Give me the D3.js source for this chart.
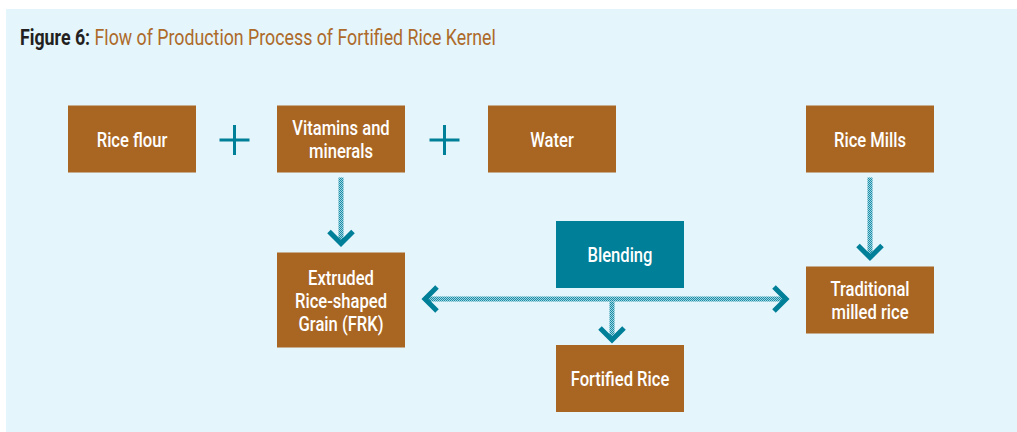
<!DOCTYPE html>
<html>
<head>
<meta charset="utf-8">
<script src="https://cdn.jsdelivr.net/npm/d3@7"></script>
<style>
  html, body { margin: 0; padding: 0; background: #fff; }
  svg { display: block; }
</style>
</head>
<body>
<script>
// Flow chart content
const titleLead = "Figure 6:";
const titleText = "Flow of Production Process of Fortified Rice Kernel";

const nodeLabels = [
  "Rice flour",
  "Vitamins and\nminerals",
  "Water",
  "Rice Mills",
  "Extruded\nRice-shaped\nGrain (FRK)",
  "Blending",
  "Traditional\nmilled rice",
  "Fortified Rice",
];
const nodeColumns = ["flour", "vitamins", "water", "mills", "vitamins", "blend", "mills", "blend"];
const nodeRows = ["inputs", "inputs", "inputs", "inputs", "products", "hub", "products", "output"];
const nodeKinds = ["material", "material", "material", "material", "material", "process", "material", "material"];

// ingredients that are combined (drawn as "+")
const plusPairs = [
  ["Rice flour", "Vitamins and\nminerals"],
  ["Vitamins and\nminerals", "Water"],
];
// straight downward flows
const flows = [
  ["Vitamins and\nminerals", "Extruded\nRice-shaped\nGrain (FRK)"],
  ["Rice Mills", "Traditional\nmilled rice"],
];
// the blending step joins these two and gives the third
const blendLeft = "Extruded\nRice-shaped\nGrain (FRK)";
const blendRight = "Traditional\nmilled rice";
const blendOut = "Fortified Rice";

const width = 1017;
const height = 432;
const teal = "#007f99";
const brown = "#a96622";
const font = "Roboto, 'Liberation Sans', sans-serif";
const squeeze = 0.79; // condensed look

const x = d3.scaleOrdinal()
  .domain(["flour", "vitamins", "water", "blend", "mills"])
  .range([132, 341, 552, 620, 870]);
const y = d3.scaleOrdinal()
  .domain(["inputs", "hub", "products", "output"])
  .range([139, 254.5, 300, 378.5]);
const kindColor = d3.scaleOrdinal().domain(["material", "process"]).range([brown, teal]);

const boxW = 128;
const boxH = (n) => (n > 2 ? 95 : 67);

const nodes = nodeLabels.map((label, i) => {
  const lines = label.split("\n");
  const cx = x(nodeColumns[i]);
  const cy = y(nodeRows[i]);
  const h = boxH(lines.length);
  return {
    label, lines, cx, cy, kind: nodeKinds[i],
    x0: cx - boxW / 2, x1: cx + boxW / 2, y0: cy - h / 2, y1: cy + h / 2,
  };
});
const byLabel = new Map(nodes.map((d) => [d.label, d]));

const svg = d3.select("body").append("svg")
  .attr("width", width)
  .attr("height", height)
  .attr("viewBox", `0 0 ${width} ${height}`);

// hatched fill used for the arrow shafts
const pat = svg.append("defs").append("pattern")
  .attr("id", "hatch")
  .attr("patternUnits", "userSpaceOnUse")
  .attr("width", 2)
  .attr("height", 2);
pat.append("rect").attr("width", 2).attr("height", 2).attr("fill", "#9ed5e2");
pat.append("rect").attr("width", 1).attr("height", 1).attr("fill", "#1a8ca6");
pat.append("rect").attr("x", 1).attr("y", 1).attr("width", 1).attr("height", 1).attr("fill", "#1a8ca6");

// panel
svg.append("rect")
  .attr("x", 6).attr("y", 9)
  .attr("width", width - 6).attr("height", height - 9)
  .attr("fill", "#e4f5fc");

// title
const title = svg.append("text")
  .attr("transform", `translate(20,45) scale(${squeeze},1)`)
  .attr("font-family", font)
  .attr("font-size", "22.5px");
title.append("tspan").attr("font-weight", "bold").attr("fill", "#231f20").text(titleLead + " ");
title.append("tspan").attr("fill", "#ad6a2a").text(titleText);

// boxes
const box = svg.append("g").selectAll("g")
  .data(nodes)
  .join("g");

box.append("rect")
  .attr("x", (d) => d.x0)
  .attr("y", (d) => d.y0)
  .attr("width", boxW)
  .attr("height", (d) => d.y1 - d.y0)
  .attr("fill", (d) => kindColor(d.kind));

box.append("text")
  .attr("fill", "white")
  .attr("font-family", font)
  .attr("font-size", "21px")
  .attr("font-weight", 500)
  .attr("text-anchor", "middle")
  .attr("transform", (d) => `translate(${d.cx},0) scale(${squeeze},1)`)
  .each(function (d) {
    const lh = 23;
    const top = d.cy - ((d.lines.length - 1) * lh) / 2;
    d3.select(this).selectAll("tspan")
      .data(d.lines)
      .join("tspan")
      .attr("x", 0)
      .attr("y", (l, i) => top + i * lh)
      .attr("dy", "0.36em")
      .text((l) => l);
  });

// plus signs
const plus = svg.append("g").attr("stroke", teal).attr("stroke-width", 3);
plusPairs.forEach(([a, b]) => {
  const s = byLabel.get(a), t = byLabel.get(b);
  const cx = (s.x1 + t.x0) / 2 - 2;
  const cy = s.cy + 1;
  plus.append("line").attr("x1", cx - 15).attr("x2", cx + 15).attr("y1", cy).attr("y2", cy);
  plus.append("line").attr("x1", cx).attr("x2", cx).attr("y1", cy - 15).attr("y2", cy + 15);
});

// arrows
const arrows = svg.append("g");
const shaft = 5;
const arm = 12;

function chevron(tx, ty, dir) {
  // dir: "down", "left", "right"
  let p;
  if (dir === "down") p = [[tx - arm, ty - arm - 3], [tx, ty - 3], [tx + arm, ty - arm - 3]];
  if (dir === "left") p = [[tx + arm + 3, ty - arm], [tx + 3, ty], [tx + arm + 3, ty + arm]];
  if (dir === "right") p = [[tx - arm - 3, ty - arm], [tx - 3, ty], [tx - arm - 3, ty + arm]];
  arrows.append("path")
    .attr("d", d3.line()(p))
    .attr("fill", "none")
    .attr("stroke", teal)
    .attr("stroke-width", 5)
    .attr("stroke-linejoin", "miter");
}

function vShaft(cx, ya, yb) {
  arrows.append("rect")
    .attr("x", cx - shaft / 2)
    .attr("y", ya)
    .attr("width", shaft)
    .attr("height", yb - ya)
    .attr("fill", "url(#hatch)");
}

flows.forEach(([a, b]) => {
  const s = byLabel.get(a), t = byLabel.get(b);
  const tip = t.y0 - 6;
  vShaft(s.cx, s.y1 + 5, tip - 3);
  chevron(s.cx, tip, "down");
});

// blending connector
const L = byLabel.get(blendLeft), R = byLabel.get(blendRight), O = byLabel.get(blendOut);
const hy = y("products") - 1;
const lx = L.x1 + 17, rx = R.x0 - 17;
arrows.append("rect")
  .attr("x", lx + 2)
  .attr("y", hy - shaft / 2)
  .attr("width", rx - lx - 4)
  .attr("height", shaft)
  .attr("fill", "url(#hatch)");
chevron(lx, hy, "left");
chevron(rx, hy, "right");
const sx = O.cx - 8;
vShaft(sx, hy + shaft / 2, O.y0 - 6);
chevron(sx, O.y0 - 2, "down");
</script>
</body>
</html>
